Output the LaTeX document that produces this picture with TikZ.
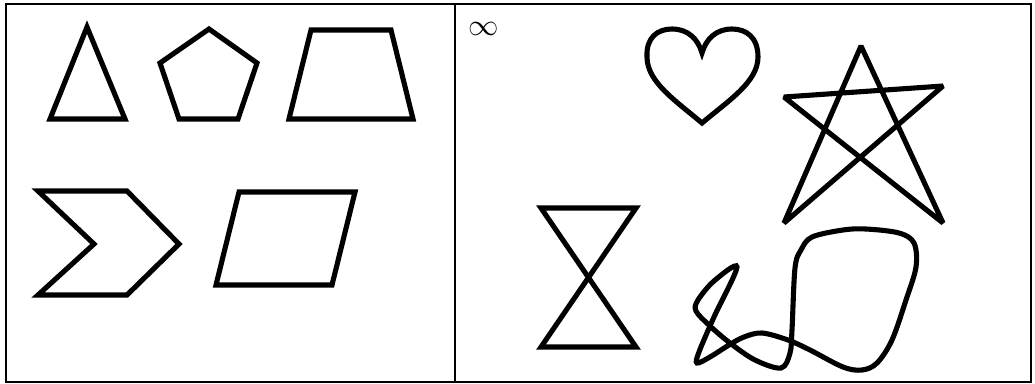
\documentclass[tikz,border=0pt]{standalone}
\usepackage{tikz}

\tikzset{
  outline/.style={line width=2.9pt, line join=miter},
  panel/.style={line width=1pt},
}

\begin{document}
\begin{tikzpicture}[x=0.02cm, y=-0.02cm]
            % --- RAMKA ---
            \useasboundingbox (0,0) rectangle (1035,383);
            \draw[panel] (6,4) rectangle (1031,382);
            \draw[panel] (455,4) -- (455,382);

            % --- LEWY PANEL: wielokaty ---
            % Trojkat
            \draw[outline] (87,27) -- (125,119) -- (50,119) -- cycle;
            % Pieciokat
            \draw[outline] (209,29) -- (257,63) -- (238,119) -- (179,119) -- (160,63) -- cycle;
            % Trapez
            \draw[outline] (311,30) -- (391,30) -- (413,119) -- (289,119) -- cycle;
            % Strzalka (szewron)
            \draw[outline] (38,191) -- (127,191) -- (179,244) -- (127,295) -- (38,295) -- (94,244) -- cycle;
            % Rownoleglobok
            \draw[outline] (239,192) -- (355,192) -- (332,285) -- (216,285) -- cycle;

            % --- PRAWY PANEL: krzywe ---
            \node (inf) at (484,29) {\fontsize{16}{18}\selectfont$\infty$};

            % Serce
            \draw[outline] (702,123) .. controls (676,101) and (647,82) .. (647,57)
                .. controls (646,37) and (658,29) .. (672,29)
                .. controls (688,29) and (698,39) .. (702,53)
                .. controls (706,39) and (716,29) .. (732,29)
                .. controls (746,29) and (758,37) .. (758,57)
                .. controls (758,82) and (728,101) .. (702,123) -- cycle;

            % Gwiazda
            \draw[outline, line join=bevel] (861,46) -- (784,223) -- (943,86) -- (784,97) -- (943,223) -- cycle;

            % Klepsydra
            \draw[outline] (541,208) -- (636,208) -- (541,347) -- (636,347) -- cycle;

            % Zawijas
            \draw[outline] plot[smooth cycle, tension=0.55] coordinates {
                (737,267) (714,281) (698,300) (696,311) (710,326) (730,343)
                (755,360) (781,368) (790,353) (792,330) (795,268) (801,250)
                (812,237) (843,230) (866,229) (899,233) (914,243) (916,267)
                (906,300) (892,340) (877,363) (862,370) (843,367) (810,350)
                (788,340) (762,333) (744,337) (729,345) (710,357) (697,363)
                (699,352) (714,317)};
        \end{tikzpicture}
\end{document}
